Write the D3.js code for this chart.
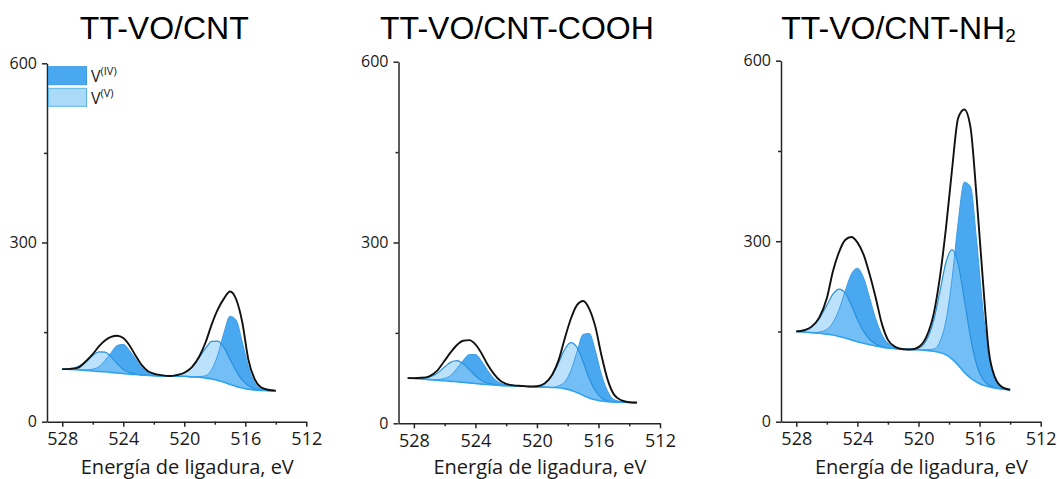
<!DOCTYPE html>
<html lang="es">
<head>
<meta charset="UTF-8">
<title>V 2p XPS - TT-VO/CNT</title>
<script src="https://d3js.org/d3.v7.min.js"></script>
<style>
  body { margin: 0; background: #fff; }
  .title { font-family: "Liberation Sans", Arial, sans-serif; font-size: 32px; fill: #000; }
  .axis path, .axis line { stroke: #262626; stroke-width: 1.5; }
  .axis text { font-family: "Open Sans", sans-serif; fill: #1a1a1a; }
  .xlabel { font-family: "Open Sans", sans-serif; font-size: 20px; fill: #1a1a1a; }
  .legend text { font-family: "Open Sans", sans-serif; font-size: 16px; fill: #1a1a1a; }
</style>
</head>
<body>
<svg id="chart" width="1057" height="479"></svg>
<script>
const energies = [528, 527.5, 527, 526.5, 526, 525.6, 525.2, 524.8, 524.4, 524, 523.6, 523.2, 522.8, 522.4, 522,
  521.5, 521, 520.5, 520, 519.5, 519, 518.6, 518.2, 517.8, 517.4, 517, 516.6, 516.2, 515.8, 515.4, 515, 514.5, 514];
const energies2 = [528.4, 528, 527.5, 527, 526.5, 526, 525.6, 525.2, 524.8, 524.4, 524, 523.6, 523.2, 522.8, 522.4, 522,
  521.5, 521, 520.5, 520, 519.5, 519, 518.6, 518.2, 517.8, 517.4, 517, 516.6, 516.2, 515.8, 515.4, 515, 514.5, 514, 513.5];

// TT-VO/CNT
const background1 = [88, 87.5, 87, 86, 85, 84, 83.5, 82.5, 81.5, 80.5, 79.5, 79, 78, 77.5, 77, 76.5, 76.5, 76, 76, 75,
  74.5, 73, 71.5, 69, 66, 62.5, 59, 56.5, 54.5, 53, 52.5, 52, 51.5];
const vIV1 = [0, 0, 0, 0.5, 3, 8, 19, 33, 46, 49, 40, 26, 13, 5, 2, 0, 0, 0, 0, 0, 1, 4, 16, 43, 83, 114, 111, 77, 38, 13, 3, 0, 0];
const vV1 = [0, 1, 5, 13, 26, 33, 33, 26, 16, 7, 3, 1, 0, 0, 0, 0, 0, 2, 6, 16, 34, 50, 63, 66, 58, 42, 26, 13, 6, 2, 1, 0, 0];
const envelope1 = [88, 88.5, 90, 100, 113, 126, 136, 142, 144, 140, 128, 111, 95, 85, 80.5, 78, 76.5, 78, 82, 91.5,
  110, 133, 163, 188, 206, 218, 205, 167, 104, 72, 58, 53.5, 52];

// TT-VO/CNT-COOH
const background2 = [75, 74.5, 73.5, 72.5, 71.5, 70.5, 69.5, 69, 68, 67, 66, 65, 64.5, 63.5, 63, 62.5, 62, 61.5, 61, 60.5,
  60, 59.5, 59, 57.5, 55, 51, 46.5, 42, 39, 37, 36, 35.5, 35, 34.5, 34];
const vIV2 = [0, 0, 0, 0, 1, 4, 10, 22, 36, 47, 48, 38, 23, 11, 4, 1, 0, 0, 0, 0, 0, 0, 3, 11, 32, 67, 101, 107, 81, 43, 17, 4, 1, 0, 0];
const vV2 = [0, 0, 1, 4, 11, 23, 32, 35, 31, 22, 13, 6, 2, 1, 0, 0, 0, 0, 0, 1, 6, 21, 41, 65, 79, 75, 56, 32, 15, 5, 1, 0, 0, 0, 0];
const envelope2 = [75, 75, 75.5, 78, 87, 104, 118, 130, 137, 138, 131, 116, 97, 82, 71, 65.5, 63, 62, 61, 61.5,
  66, 81, 104, 140, 173, 196, 203, 190, 160, 112, 72, 48, 38, 35, 34.5];

// TT-VO/CNT-NH2
const background3 = [150, 149, 148, 147, 145.5, 144, 141.5, 139, 136, 133, 130.5, 128, 126, 124, 122.5, 121.5, 120.5, 120,
  119.5, 118.5, 117, 115, 111, 104, 94, 82, 73, 66, 61, 58, 56, 54, 53];
const vIV3 = [0, 0, 0, 2, 8, 21, 45, 78, 109, 122, 109, 78, 45, 21, 8, 2, 0, 0, 0, 1, 4, 18, 57, 134, 238, 316, 318, 236, 130, 54, 17, 3, 0];
const vV3 = [0, 2, 9, 24, 48, 68, 79, 75, 58, 37, 20, 9, 3, 1, 0, 0, 0, 1, 3, 16, 52, 101, 154, 182, 168, 121, 68, 29, 10, 3, 1, 0, 0];
const envelope3 = [150, 152, 158, 173, 205, 250, 282, 302, 307, 298, 278, 245, 206, 163, 136, 124, 120.5, 120, 124, 140,
  180, 240, 322, 420, 505, 519, 490, 375, 240, 118, 74, 57, 53];

const xTicks = [528, 524, 520, 516, 512];
const xMinor = [526, 522, 518, 514];
const yTicks = [0, 300, 600];
const yMinor = [150, 450];
const legendLabels = ["IV", "V"];

const panels = [
  { title: "TT-VO/CNT", sub: "", e: energies, bg: background1, iv: vIV1, v: vV1, env: envelope1 },
  { title: "TT-VO/CNT-COOH", sub: "", e: energies2, bg: background2, iv: vIV2, v: vV2, env: envelope2 },
  { title: "TT-VO/CNT-NH", sub: "2", e: energies, bg: background3, iv: vIV3, v: vV3, env: envelope3 }
];

// plot frames (pixel boxes of each axis pair)
const frames = [
  { left: 47, right: 306.3, top: 63.3, bottom: 421.7, labelY: 473.5 },
  { left: 398.5, right: 660, top: 61.7, bottom: 423.3, labelY: 473.5 },
  { left: 781, right: 1040.7, top: 60.7, bottom: 421.7, labelY: 473.5 }
];

const ivFill = "#4aa8f1", vFill = "#8fcff8";
const svg = d3.select("#chart");

panels.forEach((p, k) => {
  const f = frames[k];
  const x = d3.scaleLinear().domain([529, 512]).range([f.left, f.right]);
  const y = d3.scaleLinear().domain([0, 600]).range([f.bottom, f.top]);
  const rows = p.e.map((e, i) => ({ e, bg: p.bg[i], iv: p.iv[i], v: p.v[i], env: p.env[i] }));
  const g = svg.append("g");
  const curve = d3.curveMonotoneX;

  const area = key => d3.area().curve(curve)
    .x(d => x(d.e)).y0(d => y(d.bg)).y1(d => y(d.bg + d[key]));
  const line = fn => d3.line().curve(curve).x(d => x(d.e)).y(d => y(fn(d)));

  // component fills
  g.append("path").datum(rows).attr("d", area("iv")).attr("fill", ivFill);
  g.append("path").datum(rows).attr("d", area("v")).attr("fill", vFill).attr("fill-opacity", 0.6);

  // component outlines, background and envelope
  g.append("path").datum(rows).attr("d", line(d => d.bg + d.iv))
    .attr("fill", "none").attr("stroke", "#3b9de8").attr("stroke-width", 1);
  g.append("path").datum(rows).attr("d", line(d => d.bg + d.v))
    .attr("fill", "none").attr("stroke", "#2a8fdc").attr("stroke-width", 1.2);
  g.append("path").datum(rows).attr("d", line(d => d.bg))
    .attr("fill", "none").attr("stroke", "#2ea2f0").attr("stroke-width", 1.6);
  g.append("path").datum(rows).attr("d", line(d => d.env))
    .attr("fill", "none").attr("stroke", "#111").attr("stroke-width", 1.9);

  // axes
  g.append("g").attr("class", "axis").attr("transform", `translate(0,${f.bottom})`)
    .call(d3.axisBottom(x).tickValues(xTicks).tickFormat(d3.format("d")).tickSize(5).tickSizeOuter(0).tickPadding(6))
    .call(a => a.selectAll("text").style("font-size", "18px"));
  g.append("g").attr("class", "axis").attr("transform", `translate(0,${f.bottom})`)
    .call(d3.axisBottom(x).tickValues(xMinor).tickFormat("").tickSize(3))
    .call(a => a.select(".domain").remove());
  g.append("g").attr("class", "axis").attr("transform", `translate(${f.left},0)`)
    .call(d3.axisLeft(y).tickValues(yTicks).tickFormat(d3.format("d")).tickSize(5).tickSizeOuter(0).tickPadding(5))
    .call(a => a.selectAll("text").style("font-size", "16px"));
  g.append("g").attr("class", "axis").attr("transform", `translate(${f.left},0)`)
    .call(d3.axisLeft(y).tickValues(yMinor).tickFormat("").tickSize(3))
    .call(a => a.select(".domain").remove());

  g.append("text").attr("class", "xlabel")
    .attr("x", x(520) + 3).attr("y", f.labelY)
    .attr("text-anchor", "middle").text("Energía de ligadura, eV");

  const t = g.append("text").attr("class", "title")
    .attr("x", x(520) - 20).attr("y", 39).attr("text-anchor", "middle").text(p.title);
  if (p.sub) t.append("tspan").attr("dy", 2.5).style("font-size", "19px").text(p.sub);

  if (k === 0) {
    const lg = g.append("g").attr("class", "legend");
    const fills = [ivFill, "#abdaf9"], strokes = ["#3a9be6", "#5ab5ec"];
    legendLabels.forEach((lab, i) => {
      lg.append("rect").attr("x", f.left + 1.5).attr("y", 66.7 + i * 21.6)
        .attr("width", 38).attr("height", 18).attr("fill", fills[i])
        .attr("stroke", strokes[i]).attr("stroke-width", 1);
      const tx = lg.append("text").attr("x", f.left + 44).attr("y", 81.5 + i * 22.3).text("V");
      tx.append("tspan").attr("dy", -6.5).style("font-size", "11px").text(`(${lab})`);
    });
  }
});
</script>
</body>
</html>
